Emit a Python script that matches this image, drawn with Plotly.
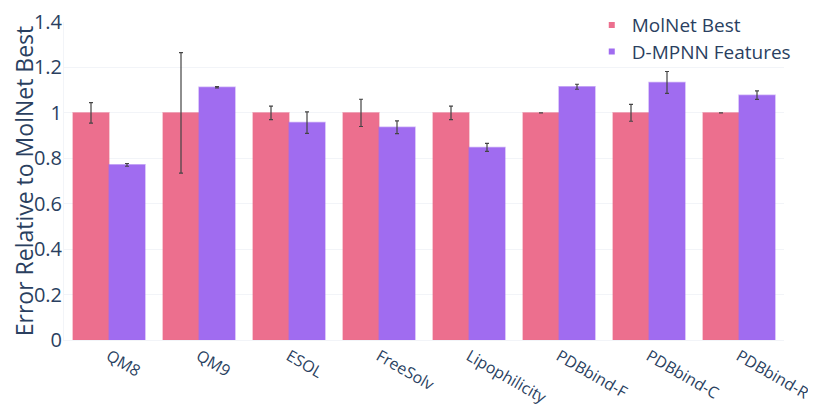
import plotly.graph_objects as go

categories = ["QM8", "QM9", "ESOL", "FreeSolv", "Lipophilicity", "PDBbind-F", "PDBbind-C", "PDBbind-R"]
molnet_vals = [1, 1, 1, 1, 1, 1, 1, 1]
molnet_err = [0.045, 0.265, 0.03, 0.06, 0.03, 0.0, 0.037, 0.0]
dmpnn_vals = [0.771, 1.113, 0.957, 0.937, 0.848, 1.115, 1.134, 1.078]
dmpnn_err = [0.006, 0.003, 0.047, 0.028, 0.018, 0.011, 0.048, 0.019]
series_names = ["MolNet Best", "D-MPNN Features"]

pink = "rgb(236,111,142)"
purple = "rgb(160,108,240)"

fig = go.Figure()
fig.add_trace(go.Bar(
    name=series_names[0], x=categories, y=molnet_vals, showlegend=False,
    marker=dict(color=pink, line=dict(color="rgba(236,111,142,0.5)", width=1.5)),
    error_y=dict(type="data", array=molnet_err, visible=True, color="#444", thickness=1.2, width=2),
))
fig.add_trace(go.Bar(
    name=series_names[1], x=categories, y=dmpnn_vals, showlegend=False,
    marker=dict(color=purple, line=dict(color="rgba(160,108,240,0.5)", width=1.5)),
    error_y=dict(type="data", array=dmpnn_err, visible=True, color="#444", thickness=1.2, width=2),
))
# legend swatches (small squares like the reference), one legend per row
for name, col, leg in zip(series_names, [pink, purple], ["legend", "legend2"]):
    fig.add_trace(go.Scatter(x=[None], y=[None], mode="markers", name=name, legend=leg,
                             marker=dict(symbol="square", size=6, color=col)))

leg_common = dict(xanchor="left", yanchor="middle", font=dict(size=19),
                  bgcolor="rgba(0,0,0,0)", itemwidth=30)
fig.update_layout(
    template="plotly_white",
    width=816, height=405,
    margin=dict(l=56, r=40, t=14, b=73, autoexpand=False),
    font=dict(family="Open Sans", size=20, color="#2a3f5f"),
    barmode="group", bargap=0.2, bargroupgap=0,
    legend=dict(x=0.733, y=0.99, **leg_common),
    legend2=dict(x=0.733, y=0.907, **leg_common),
    showlegend=True,
)
fig.update_yaxes(range=[0, 1.4], dtick=0.2, automargin=False, ticklabelstandoff=-3,
                 title=dict(text="Error Relative to MolNet Best", font=dict(size=23), standoff=0),
                 gridcolor="#f2f4f8", zeroline=False, showline=True, linecolor="#f2f4f8", tickformat="~g")
fig.update_xaxes(tickangle=30, tickfont=dict(size=16), automargin=False, showline=True, linecolor="#f2f4f8")

fig.write_html("out.html")
